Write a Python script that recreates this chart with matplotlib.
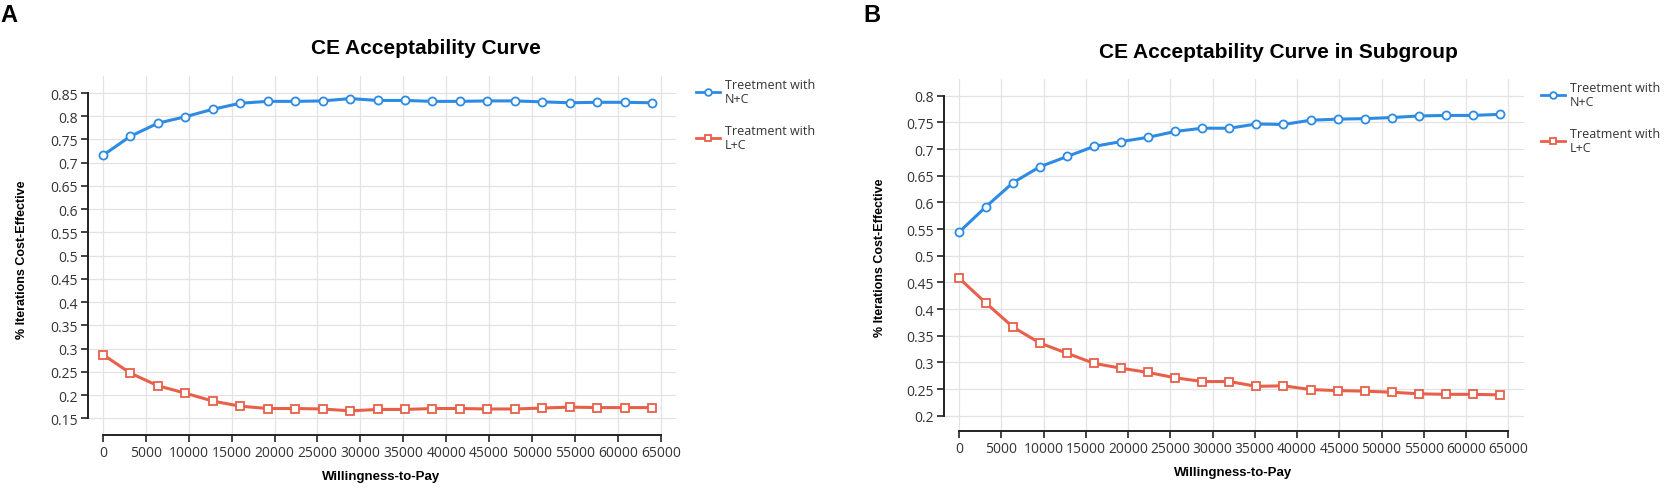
import matplotlib
matplotlib.use("Agg")
import matplotlib.pyplot as plt

# willingness-to-pay grid (21 steps of 3200)
wtp = [0, 3200, 6400, 9600, 12800, 16000, 19200, 22400, 25600, 28800, 32000,
       35200, 38400, 41600, 44800, 48000, 51200, 54400, 57600, 60800, 64000]

# panel A: full cohort
a_nc = [0.716, 0.757, 0.785, 0.799, 0.815, 0.828, 0.832, 0.832, 0.833, 0.838, 0.834,
        0.834, 0.832, 0.832, 0.833, 0.833, 0.831, 0.829, 0.830, 0.830, 0.829]
a_lc = [0.287, 0.247, 0.220, 0.204, 0.187, 0.176, 0.171, 0.171, 0.170, 0.166, 0.169,
        0.169, 0.171, 0.171, 0.170, 0.170, 0.172, 0.174, 0.173, 0.173, 0.173]

# panel B: subgroup
b_nc = [0.544, 0.592, 0.637, 0.667, 0.686, 0.705, 0.714, 0.722, 0.733, 0.739, 0.739,
        0.747, 0.746, 0.754, 0.756, 0.757, 0.759, 0.762, 0.763, 0.763, 0.765]
b_lc = [0.458, 0.411, 0.366, 0.336, 0.317, 0.298, 0.289, 0.281, 0.271, 0.264, 0.264,
        0.255, 0.256, 0.249, 0.247, 0.246, 0.244, 0.241, 0.240, 0.240, 0.239]

a_yticks = [0.15, 0.2, 0.25, 0.3, 0.35, 0.4, 0.45, 0.5, 0.55, 0.6, 0.65, 0.7, 0.75, 0.8, 0.85]
b_yticks = [0.2, 0.25, 0.3, 0.35, 0.4, 0.45, 0.5, 0.55, 0.6, 0.65, 0.7, 0.75, 0.8]
xticks = list(range(0, 65001, 5000))

labels = ["Treetment with\nN+C", "Treatment with\nL+C"]
BLUE = "#2E8BE3"
RED = "#E8604A"
TICK_FONT = ["Open Sans", "DejaVu Sans"]
BOLD_FONT = ["Liberation Sans", "DejaVu Sans"]

W, H = 1666, 489
fig = plt.figure(figsize=(W / 100, H / 100), dpi=100)


def px_axes(left, right, top, bottom):
    return fig.add_axes([left / W, 1 - bottom / H, (right - left) / W, (bottom - top) / H])


def style_panel(ax, yticks, xlim, ylim):
    ax.set_xlim(*xlim)
    ax.set_ylim(*ylim)
    ax.set_xticks(xticks)
    ax.set_yticks(yticks)
    ax.set_xticklabels([str(t) for t in xticks], family=TICK_FONT, fontsize=10, color="#333333")
    ax.set_yticklabels([f"{t:g}" for t in yticks], family=TICK_FONT, fontsize=10, color="#333333")
    ax.grid(True, color="#e3e3e3", linewidth=0.9)
    ax.set_axisbelow(True)
    for s in ("top", "right"):
        ax.spines[s].set_visible(False)
    for s in ("left", "bottom"):
        ax.spines[s].set_linewidth(1.4)
        ax.spines[s].set_color("#222222")
    ax.spines["left"].set_bounds(yticks[0], yticks[-1])
    ax.spines["bottom"].set_bounds(xticks[0], xticks[-1])
    ax.tick_params(direction="out", length=5, width=1.2, color="#222222", pad=2)


def draw_series(ax, nc, lc):
    ax.plot(wtp, nc, color=BLUE, lw=2.2, marker="o", ms=5.8, mfc="white",
            mec=BLUE, mew=1.3, label=labels[0], zorder=3)
    ax.plot(wtp, lc, color=RED, lw=2.2, marker="s", ms=5.4, mfc="white",
            mec=RED, mew=1.3, label=labels[1], zorder=3)


# Panel A
ax1 = px_axes(87.7, 676, 77, 436)
draw_series(ax1, a_nc, a_lc)
style_panel(ax1, a_yticks, (-1783, 66783), (0.114, 0.8866))

# Panel B
ax2 = px_axes(943.7, 1523.7, 80, 432.3)
draw_series(ax2, b_nc, b_lc)
style_panel(ax2, b_yticks, (-1811, 66828), (0.1707, 0.8313))

# titles, axis labels, panel letters
fig.text(426 / W, 1 - 48 / H, "CE Acceptability Curve", ha="center", va="center",
         family=BOLD_FONT, fontweight="bold", fontsize=15)
fig.text(1278 / W, 1 - 52 / H, "CE Acceptability Curve in Subgroup", ha="center", va="center",
         family=BOLD_FONT, fontweight="bold", fontsize=15)

for xc, yc in ((381, 477), (1233, 473)):
    fig.text(xc / W, 1 - yc / H, "Willingness-to-Pay", ha="center", va="center",
             family=BOLD_FONT, fontweight="bold", fontsize=9.5)
for xc, yc in ((21.7, 260), (880, 258)):
    fig.text(xc / W, 1 - yc / H, "% Iterations Cost-Effective", ha="center", va="center",
             rotation=90, family=BOLD_FONT, fontweight="bold", fontsize=9)

fig.text(0 / W, 1 - 15 / H, "A", ha="left", va="center", family=BOLD_FONT,
         fontweight="bold", fontsize=17)
fig.text(863 / W, 1 - 15 / H, "B", ha="left", va="center", family=BOLD_FONT,
         fontweight="bold", fontsize=17)

# legends to the right of each panel
for ax, lx, ly in ((ax1, 696, 79), (ax2, 1541, 82)):
    leg = ax.legend(loc="upper left", bbox_to_anchor=(lx / W, 1 - ly / H),
                    bbox_transform=fig.transFigure, frameon=False,
                    prop={"family": TICK_FONT, "size": 9}, handlelength=1.9,
                    handletextpad=0.4, labelspacing=1.5, borderaxespad=0,
                    borderpad=0)
    for h in leg.legend_handles:
        h.set_markersize(4.8)
        h.set_linewidth(2.0)
    for t in leg.get_texts():
        t.set_color("#333333")
        t.set_linespacing(1.1)

fig.savefig("out.png", dpi=100)
